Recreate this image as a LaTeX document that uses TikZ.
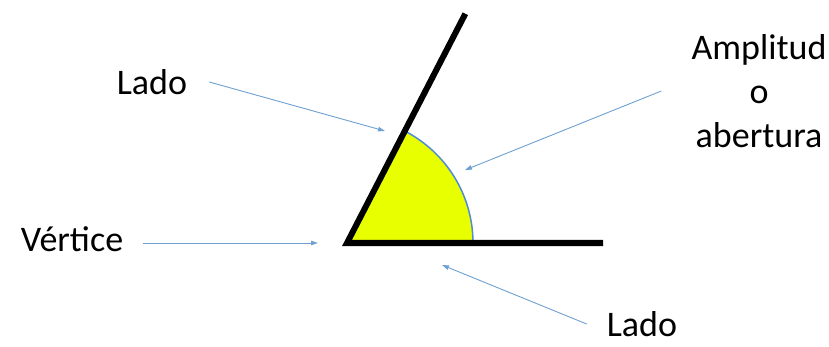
\documentclass[tikz,border=0pt]{standalone}
\usepackage{fontspec}
\setmainfont{Carlito}
\usepackage{xcolor}
\usetikzlibrary{arrows.meta, positioning, calc}
\definecolor{fillyel}{RGB}{232,255,0}
\definecolor{arcblue}{RGB}{80,140,210}
\definecolor{ptrblue}{RGB}{110,160,210}
\tikzset{
  lbl/.style     = {inner xsep=22pt, inner ysep=0pt, align=center,
                    font=\fontsize{36}{44}\selectfont},
  sidebar/.style = {line width=6pt, line join=miter},
  pointer/.style = {-{Triangle[length=7pt,width=4.5pt]}, ptrblue, line width=0.9pt},
}

\begin{document}
\begin{tikzpicture}[x=1pt, y=-1pt]
  \useasboundingbox (0,0) rectangle (829,347);

  \coordinate (V) at (347,243);
  \coordinate (endA) at ($(V)+(-62.7:258)$);
  \coordinate (endB) at (603,243);

  \fill[fillyel] (V) -- ++(0:126) arc[start angle=0, end angle=-62.7, radius=126] -- cycle;
  \draw[arcblue, line width=1.5pt] ($(V)+(0:126)$) arc[start angle=0, end angle=-62.7, radius=126];
  \draw[sidebar] (endA) -- (V) -- (endB);

  \coordinate (tipLadoA) at (385,131);
  \coordinate (tipVert)  at (318,243);
  \coordinate (tipArc)   at (465,170);
  \coordinate (tipLadoB) at (442,265);

  \node[lbl] (ladoA) at (152,82) {Lado};
  \node[lbl, inner xsep=20pt] (vert) at (72,239) {Vértice};
  \node[lbl, inner xsep=30pt] (amp) at (759,91) {Amplitud\\o\\abertura};
  \node[lbl, inner xsep=20pt] (ladoB) at (642,324) {Lado};

  \draw[pointer] (ladoA.east) -- (tipLadoA);
  \draw[pointer] (vert.east |- tipVert) -- (tipVert);
  \draw[pointer] (amp.west) -- (tipArc);
  \draw[pointer] (ladoB.west) -- (tipLadoB);
\end{tikzpicture}
\end{document}
